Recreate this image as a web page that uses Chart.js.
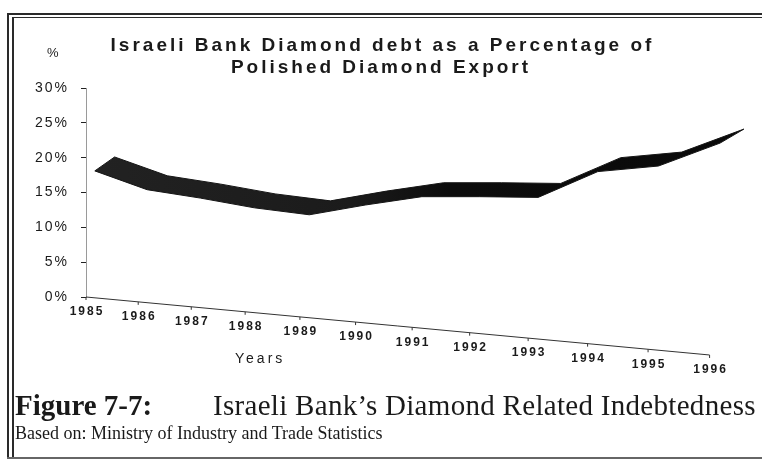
<!DOCTYPE html>
<html>
<head>
<meta charset="utf-8">
<script src="https://cdn.jsdelivr.net/npm/chart.js@4.4.1/dist/chart.umd.min.js"></script>
<style>
  html, body { margin: 0; padding: 0; background: #fff; overflow: hidden; width: 762px; height: 460px; }
  #wrap { position: relative; width: 762px; height: 460px; overflow: hidden; background: #fff; }
  #chart { position: absolute; left: 0; top: 0; }
  .rule { position: absolute; background: #2a2a2a; }
  .sans { font-family: Arial, "Liberation Sans", sans-serif; color: #1a1a1a; }
  .serif { font-family: "Times New Roman", "Liberation Serif", serif; color: #1a1a1a; }
  .title {
    position: absolute; left: 0; top: 34px; width: 762px; text-align: center;
    font-size: 19px; font-weight: bold; line-height: 22px; letter-spacing: 3px; text-indent: 3px;
  }
  .unit { position: absolute; left: 47px; top: 45px; font-size: 13px; line-height: 16px; }
  .xtitle { position: absolute; left: 235px; top: 350px; font-size: 14px; line-height: 16px; letter-spacing: 3px; }
  .fig { position: absolute; left: 15px; top: 390px; font-size: 29px; line-height: 30px; white-space: nowrap; }
  .fig span { position: absolute; left: 198px; top: 0; letter-spacing: 0.3px; }
  .source { position: absolute; left: 15px; top: 423px; font-size: 18px; line-height: 20px; white-space: nowrap; }
</style>
</head>
<body>
<div id="wrap">
  <div class="rule" style="left:7px;top:13px;width:2px;height:446px"></div>
  <div class="rule" style="left:12px;top:17px;width:2px;height:442px"></div>
  <div class="rule" style="left:7px;top:13px;width:755px;height:2px"></div>
  <div class="rule" style="left:12px;top:17px;width:750px;height:1px"></div>
  <div class="rule" style="left:7px;top:457px;width:755px;height:2px;background:#666"></div>
  <canvas id="chart" width="762" height="460"></canvas>
  <div class="title sans">Israeli Bank Diamond debt as a Percentage of<br>Polished Diamond Export</div>
  <div class="unit sans">%</div>
  <div class="xtitle sans">Years</div>
  <div class="fig serif"><b>Figure 7-7:</b><span>Israeli Bank’s Diamond Related Indebtedness</span></div>
  <div class="source serif">Based on: Ministry of Industry and Trade Statistics</div>
</div>
<script>
// Data (near edge of the 3D ribbon, % of polished diamond export)
const YEARS = [1985, 1986, 1987, 1988, 1989, 1990, 1991, 1992, 1993, 1994, 1995, 1996];
const DEBT_PCT = [18.1, 15.4, 14.2, 12.8, 11.8, 13.2, 14.4, 14.4, 14.3, 18.0, 18.8, 22.1];
const Y_TICKS = [0, 5, 10, 15, 20, 25, 30];

// 3D look: ribbon offset behind the floor edge, ribbon depth, and the slope of the floor
const RIBBON_NEAR = 0.17;
const RIBBON_DEPTH_X = 0.38;
const RIBBON_DEPTH_Y = 2.0;
const FLOOR_SLOPE = 0.093;
const X_MAX = 1996.6; // room for the ribbon's far edge

// Linear scale with a simple perspective: spacing widens towards the right
class PerspectiveScale extends Chart.LinearScale {
    getPixelForValue(value) {
        const t = (value - this.min) / (this.max - this.min);
        const g = this.options.perspective || 0;
        return this.getPixelForDecimal(t / (1 + g * (1 - t)));
    }
}
PerspectiveScale.id = 'perspective';
PerspectiveScale.defaults = {};
Chart.register(PerspectiveScale);

const front = YEARS.map((yr, i) => ({ x: yr + RIBBON_NEAR, y: DEBT_PCT[i] }));
const back = YEARS.map((yr, i) => ({ x: yr + RIBBON_NEAR + RIBBON_DEPTH_X, y: DEBT_PCT[i] + RIBBON_DEPTH_Y })).reverse();
const ribbon = front.concat(back, [front[0]]);

// scanned ribbon is dark grey on the left, solid black on the right
function ribbonFill(context) {
    const area = context.chart.chartArea;
    if (!area) return '#141414';
    const g = context.chart.ctx.createLinearGradient(area.left, 0, area.right, 0);
    g.addColorStop(0, '#222');
    g.addColorStop(0.4, '#1b1b1b');
    g.addColorStop(0.55, '#0c0c0c');
    g.addColorStop(1, '#0a0a0a');
    return g;
}

// Y tick labels are letter-spaced in the original
const spacedText = {
    id: 'spacedText',
    beforeDraw(chart) { chart.ctx.letterSpacing = '2px'; },
    afterDraw(chart) { chart.ctx.letterSpacing = '0px'; }
};

// Slanted floor edge with year labels
const slantedAxis = {
    id: 'slantedAxis',
    afterDraw(chart) {
        const { ctx } = chart;
        const x = chart.scales.x;
        const y = chart.scales.y;
        const x0 = x.getPixelForValue(YEARS[0]);
        const base = y.getPixelForValue(0);
        const floorY = px => base + FLOOR_SLOPE * (px - x0);
        const xN = x.getPixelForValue(YEARS[YEARS.length - 1]);

        ctx.save();
        ctx.strokeStyle = '#333';
        ctx.lineWidth = 1;
        ctx.beginPath();
        ctx.moveTo(x0, base);
        ctx.lineTo(xN, floorY(xN));
        ctx.stroke();

        ctx.font = 'bold 12px Arial, "Liberation Sans", sans-serif';
        ctx.letterSpacing = '2px';
        ctx.textAlign = 'center';
        ctx.textBaseline = 'middle';
        ctx.fillStyle = '#1a1a1a';
        YEARS.forEach(yr => {
            const px = x.getPixelForValue(yr);
            const py = floorY(px);
            ctx.beginPath();
            ctx.moveTo(px, py);
            ctx.lineTo(px, py + 3);
            ctx.stroke();
            ctx.fillText(String(yr), px + 1, py + 15);
        });
        ctx.restore();
    }
};

new Chart(document.getElementById('chart').getContext('2d'), {
    type: 'line',
    data: {
        datasets: [{
            label: 'Diamond debt',
            data: ribbon,
            backgroundColor: ribbonFill,
            borderColor: '#151515',
            borderWidth: 1,
            fill: 'shape',
            tension: 0,
            pointRadius: 0,
            clip: false
        }]
    },
    options: {
        responsive: false,
        devicePixelRatio: 1,
        animation: false,
        layout: { padding: { left: 0, right: 15, top: 88, bottom: 163 } },
        plugins: {
            legend: { display: false },
            tooltip: { enabled: false }
        },
        scales: {
            x: {
                type: 'perspective',
                perspective: 0.1,
                min: YEARS[0],
                max: X_MAX,
                display: false
            },
            y: {
                min: Y_TICKS[0],
                max: Y_TICKS[Y_TICKS.length - 1],
                afterFit: s => { s.width = 86; },
                afterBuildTicks: s => { s.ticks = Y_TICKS.map(v => ({ value: v })); },
                border: { display: true, color: '#9a9a9a', width: 1, dash: [2, 2] },
                grid: { drawOnChartArea: false, drawTicks: true, tickLength: 5, color: '#222' },
                ticks: {
                    color: '#1a1a1a',
                    padding: 12,
                    font: { family: 'Arial, "Liberation Sans", sans-serif', size: 14 },
                    callback: v => v + '%'
                }
            }
        }
    },
    plugins: [spacedText, slantedAxis]
});
</script>
</body>
</html>
